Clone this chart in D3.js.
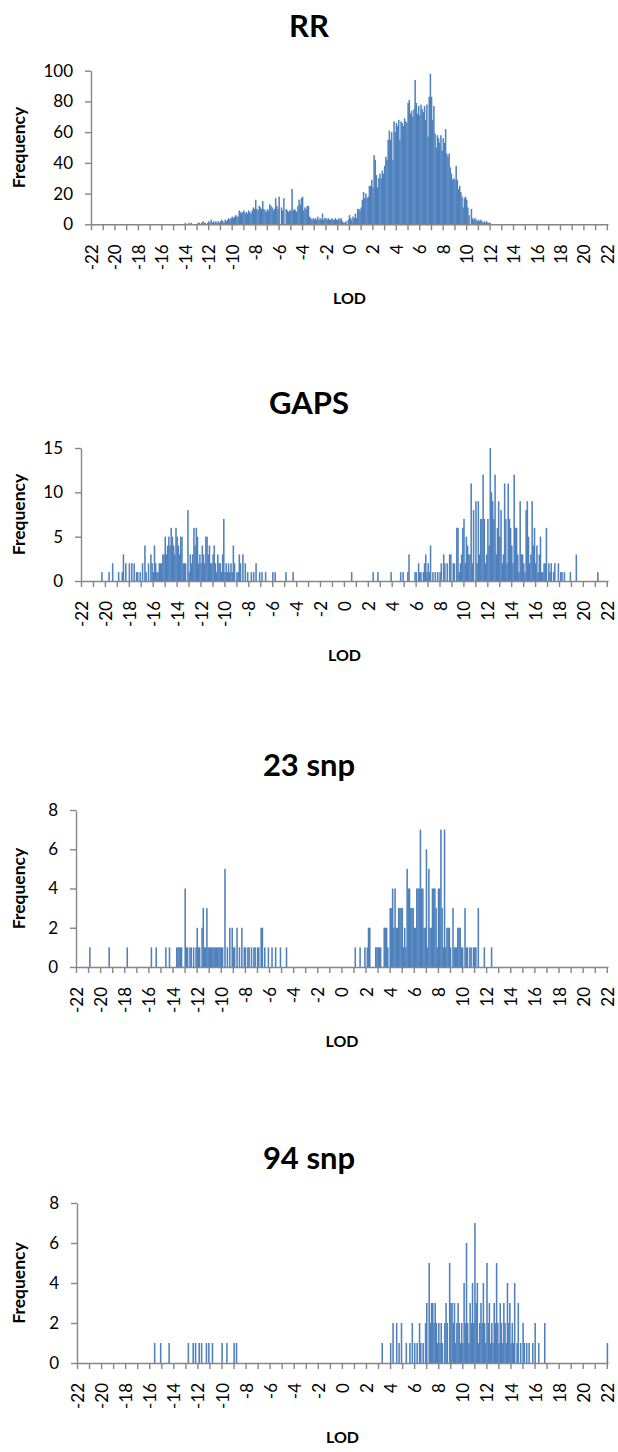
<!DOCTYPE html>
<html>
<head>
<meta charset="utf-8">
<script src="https://cdn.jsdelivr.net/npm/d3@7/dist/d3.min.js"></script>
<style>
  body { margin: 0; background: #fff; }
  svg { display: block; font-family: Lato, "Open Sans", sans-serif; }
  .domain, .tick line { stroke: #868686; stroke-width: 1.4; }
  .tick text { fill: #000; font-size: 17px; font-family: Lato, sans-serif; }
</style>
</head>
<body>
<div id="chart"></div>
<script>
// x tick labels (LOD), bins are 0.1 wide from -22 to 22
const lodLabels = d3.range(-22, 23, 2);
const lodMin = -22, lodMax = 22, binWidth = 0.1;

// RR: counts per bin starting at -14.0
const rrStart = -14.0;
const rrCounts = [
  1,0,0,1,0,1,0,0,0,0,
  0,1,1,0,1,2,1,1,0,1,
  2,1,3,1,2,1,2,1,2,1,
  2,3,2,1,3,2,3,4,3,4,
  5,4,5,6,5,5,9,8,7,8,
  9,7,8,7,9,8,7,9,11,10,
  16,10,9,12,11,10,15,10,9,8,
  10,9,13,12,11,9,10,17,12,10,
  18,0,11,9,17,0,10,9,8,9,
  9,23,9,10,9,8,12,16,13,17,
  18,9,11,10,12,12,5,4,3,4,
  3,4,3,5,3,4,3,7,3,4,
  4,3,4,3,3,4,3,3,4,3,
  3,4,3,4,2,1,1,2,0,3,
  6,4,3,5,4,7,4,10,10,9,
  11,16,21,17,20,17,18,25,25,29,
  24,45,42,32,24,30,33,30,35,33,
  38,44,42,55,61,55,60,42,67,60,
  66,64,68,55,67,66,64,69,67,66,
  79,81,72,74,70,75,94,79,72,77,
  71,78,75,73,77,68,78,57,83,98,
  83,68,77,59,50,58,56,53,58,48,
  56,53,62,46,44,46,37,33,29,30,
  29,38,29,23,25,21,18,11,17,18,
  16,11,6,0,10,4,3,4,3,2,
  3,2,3,2,1,2,1,2,1,1,
  1
];

// GAPS: [LOD, count] for non-empty bins
const gapsBins = [
  [-20.3,1],[-19.7,1],[-19.4,2],[-18.9,1],[-18.6,1],[-18.5,3],[-18.3,2],[-18.0,2],[-17.8,2],[-17.6,2],
  [-17.4,1],[-17.3,1],[-17.1,1],[-16.9,2],[-16.7,4],[-16.6,1],[-16.4,2],[-16.2,3],[-16.1,2],[-16.0,1],
  [-15.9,4],[-15.8,2],[-15.7,1],[-15.6,1],[-15.5,2],[-15.4,2],[-15.3,2],[-15.2,3],[-15.1,3],[-15.0,5],
  [-14.9,3],[-14.8,4],[-14.7,5],[-14.6,4],[-14.5,6],[-14.4,5],[-14.3,4],[-14.2,3],[-14.1,6],[-14.0,5],
  [-13.9,4],[-13.8,3],[-13.7,5],[-13.6,5],[-13.5,2],[-13.4,2],[-13.3,2],[-13.1,8],[-13.0,1],[-12.9,3],
  [-12.8,2],[-12.7,3],[-12.6,6],[-12.5,4],[-12.4,6],[-12.3,5],[-12.2,2],[-12.1,3],[-12.0,2],[-11.9,4],
  [-11.8,3],[-11.7,2],[-11.6,5],[-11.5,5],[-11.4,3],[-11.3,4],[-11.2,2],[-11.1,2],[-11.0,3],[-10.9,4],
  [-10.8,2],[-10.7,1],[-10.6,3],[-10.5,2],[-10.4,2],[-10.3,1],[-10.2,3],[-10.1,7],[-10.0,1],[-9.9,2],
  [-9.8,1],[-9.7,2],[-9.6,1],[-9.5,2],[-9.4,1],[-9.3,4],[-9.2,2],[-9.0,1],[-8.9,1],[-8.8,3],
  [-8.7,2],[-8.5,3],[-8.3,2],[-8.1,1],[-7.8,1],[-7.6,1],[-7.4,2],[-7.1,1],[-6.9,1],[-6.6,1],
  [-6.0,1],[-5.8,1],[-4.9,1],[-4.3,1],
  [0.6,1],[2.4,1],[2.8,1],[3.9,1],[4.7,1],[4.9,1],[5.3,1],[5.4,3],[5.9,1],[6.0,1],
  [6.2,2],[6.3,1],[6.4,1],[6.6,1],[6.7,2],[6.8,3],[6.9,1],[7.0,2],[7.1,1],[7.2,4],
  [7.4,1],[7.6,1],[7.8,1],[8.0,1],[8.1,2],[8.3,3],[8.4,2],[8.6,2],[8.8,3],[8.9,3],
  [9.1,2],[9.2,2],[9.4,6],[9.5,6],[9.6,1],[9.7,2],[9.8,3],[9.9,6],[10.0,7],[10.1,2],
  [10.2,5],[10.3,4],[10.4,3],[10.5,3],[10.6,11],[10.7,2],[10.8,8],[11.0,9],[11.1,2],[11.2,9],
  [11.3,3],[11.4,7],[11.5,7],[11.6,12],[11.7,7],[11.8,2],[11.9,3],[12.0,7],[12.1,4],[12.2,15],
  [12.3,10],[12.4,9],[12.5,7],[12.6,12],[12.7,3],[12.8,6],[12.9,9],[13.0,5],[13.1,8],[13.2,2],
  [13.3,3],[13.4,11],[13.5,7],[13.6,2],[13.7,11],[13.8,7],[13.9,6],[14.0,4],[14.1,2],[14.2,12],
  [14.3,6],[14.4,6],[14.5,3],[14.6,1],[14.7,9],[14.8,3],[14.9,3],[15.0,2],[15.1,1],[15.2,8],
  [15.3,9],[15.4,5],[15.5,2],[15.6,3],[15.7,9],[15.8,4],[15.9,6],[16.0,2],[16.1,4],[16.2,1],
  [16.3,3],[16.4,5],[16.5,1],[16.6,1],[16.7,2],[16.8,2],[16.9,6],[17.1,2],[17.2,1],[17.3,2],
  [17.5,1],[17.6,2],[17.9,2],[18.1,1],[18.2,1],[18.4,1],[18.9,1],[19.4,3],[21.2,1]
];

// 23 snp
const snp23Bins = [
  [-20.9,1],[-19.3,1],[-17.8,1],[-15.8,1],[-15.4,1],[-14.6,1],[-14.3,1],[-13.7,1],[-13.6,1],[-13.5,1],
  [-13.4,1],[-13.3,1],[-13.0,4],[-12.9,1],[-12.8,1],[-12.6,1],[-12.5,1],[-12.3,1],[-12.1,1],[-12.0,2],
  [-11.9,1],[-11.8,1],[-11.6,2],[-11.5,3],[-11.4,1],[-11.3,1],[-11.2,3],[-11.1,1],[-11.0,1],[-10.9,1],
  [-10.8,1],[-10.7,1],[-10.6,1],[-10.5,1],[-10.4,1],[-10.3,1],[-10.2,1],[-10.1,1],[-10.0,1],[-9.9,1],
  [-9.7,5],[-9.5,1],[-9.3,2],[-9.1,2],[-9.0,1],[-8.9,1],[-8.7,2],[-8.5,1],[-8.3,2],[-8.1,1],
  [-8.0,1],[-7.8,1],[-7.7,1],[-7.5,1],[-7.3,1],[-7.2,1],[-7.0,1],[-6.9,1],[-6.7,2],[-6.6,2],
  [-6.4,1],[-6.1,1],[-5.8,1],[-5.5,1],[-5.1,1],[-4.6,1],
  [1.1,1],[1.5,1],[1.9,1],[2.1,1],[2.2,2],[2.3,2],[2.8,1],[2.9,1],[3.0,1],[3.1,1],
  [3.2,1],[3.5,2],[3.6,2],[3.7,2],[3.8,1],[4.0,3],[4.1,3],[4.2,4],[4.3,2],[4.4,4],
  [4.5,2],[4.6,2],[4.7,3],[4.8,3],[4.9,3],[5.0,3],[5.1,1],[5.2,2],[5.3,1],[5.4,5],
  [5.5,4],[5.6,4],[5.7,3],[5.8,3],[5.9,3],[6.0,2],[6.1,2],[6.2,4],[6.3,4],[6.4,4],
  [6.5,7],[6.6,4],[6.7,4],[6.8,2],[6.9,2],[7.0,6],[7.1,1],[7.2,5],[7.3,2],[7.4,2],
  [7.5,4],[7.6,4],[7.7,4],[7.8,3],[7.9,1],[8.0,4],[8.1,4],[8.2,7],[8.3,3],[8.4,1],
  [8.5,7],[8.6,1],[8.7,2],[8.8,2],[8.9,2],[9.0,1],[9.2,3],[9.3,1],[9.4,1],[9.5,1],
  [9.6,2],[9.7,2],[9.8,2],[9.9,1],[10.0,1],[10.2,3],[10.3,1],[10.4,1],[10.6,1],[10.7,1],
  [10.9,1],[11.0,1],[11.1,1],[11.3,3],[11.8,1],[12.4,1]
];

// 94 snp
const snp94Bins = [
  [-15.6,1],[-15.1,1],[-14.4,1],[-12.8,1],[-12.4,1],[-12.2,1],[-11.9,1],[-11.7,1],[-11.3,1],[-11.1,1],
  [-10.8,1],[-10.0,1],[-9.6,1],[-9.0,1],[-8.8,1],
  [3.3,1],[4.0,1],[4.2,2],[4.5,2],[4.7,1],[4.9,2],[5.3,1],[5.6,1],[5.8,2],[6.0,1],
  [6.2,1],[6.4,2],[6.5,1],[6.7,1],[6.9,2],[7.0,3],[7.2,5],[7.3,2],[7.4,3],[7.5,3],
  [7.6,2],[7.7,3],[7.8,2],[7.9,1],[8.0,2],[8.1,1],[8.2,2],[8.3,1],[8.5,2],[8.6,3],
  [8.7,2],[8.9,5],[9.0,3],[9.1,3],[9.2,2],[9.3,3],[9.4,1],[9.5,2],[9.6,3],[9.7,2],
  [9.8,1],[9.9,2],[10.0,1],[10.1,4],[10.2,2],[10.3,6],[10.4,2],[10.5,1],[10.6,3],[10.7,2],
  [10.8,4],[10.9,2],[11.0,7],[11.1,3],[11.2,4],[11.3,1],[11.4,2],[11.5,3],[11.6,2],[11.7,4],
  [11.8,2],[11.9,1],[12.0,5],[12.1,2],[12.2,3],[12.3,1],[12.4,2],[12.5,1],[12.6,3],[12.7,2],
  [12.8,5],[12.9,2],[13.0,1],[13.1,3],[13.2,2],[13.3,1],[13.4,3],[13.5,2],[13.6,1],[13.7,4],
  [13.8,2],[13.9,3],[14.0,1],[14.1,2],[14.2,1],[14.3,4],[14.5,1],[14.6,3],[14.8,1],[15.0,2],
  [15.1,1],[15.3,1],[15.5,1],[15.8,1],[16.0,2],[16.3,1],[16.8,2],[22.0,1]
];

const rrBins = rrCounts.map((c, i) => [+(rrStart + i * binWidth).toFixed(1), c]);

const width = 618, height = 1452, plotRight = 608, barOverlap = 0.35;

const panels = [
  {title: 'RR', bins: rrBins, yMax: 100, yStep: 20, left: 91, top: 70.7, bottom: 224.3},
  {title: 'GAPS', bins: gapsBins, yMax: 15, yStep: 5, left: 81, top: 448, bottom: 581},
  {title: '23 snp', bins: snp23Bins, yMax: 8, yStep: 2, left: 76, top: 810, bottom: 967},
  {title: '94 snp', bins: snp94Bins, yMax: 8, yStep: 2, left: 77, top: 1203, bottom: 1363}
];

let svg = d3.select('#chart').append('svg')
    .attr('width', width)
    .attr('height', height);

svg.append('rect')
    .attr('width', width)
    .attr('height', height)
    .attr('fill', '#fff');

function drawPanel(p) {
    let g = svg.append('g');

    let xScale = d3.scaleLinear()
        .domain([lodMin - binWidth / 2, lodMax + binWidth / 2])
        .range([p.left, plotRight]);

    let yScale = d3.scaleLinear()
        .domain([0, p.yMax])
        .range([p.bottom, p.top]);

    // bars, slightly widened so neighbouring bins don't show seams
    g.append('g').selectAll('rect')
        .data(p.bins.filter(d => d[1] > 0))
        .join('rect')
        .attr('x', d => xScale(d[0] - binWidth / 2) - barOverlap / 2)
        .attr('width', d => xScale(d[0] + binWidth / 2) - xScale(d[0] - binWidth / 2) + barOverlap)
        .attr('y', d => yScale(d[1]))
        .attr('height', d => yScale(0) - yScale(d[1]))
        .attr('fill', '#4F81BD');

    // y axis
    g.append('g')
        .attr('transform', `translate(${p.left}, 0)`)
        .call(d3.axisLeft(yScale)
            .tickValues(d3.range(0, p.yMax + 0.001, p.yStep))
            .tickSize(6)
            .tickSizeOuter(0)
            .tickPadding(12)
            .tickFormat(d => String(d)));

    // x axis: marks every 10 bins
    g.append('g')
        .attr('transform', `translate(0, ${p.bottom})`)
        .call(d3.axisBottom(xScale)
            .tickValues(d3.range(0, 45).map(k => lodMin - binWidth / 2 + k))
            .tickSize(6)
            .tickSizeOuter(0)
            .tickFormat(''));

    // x labels, rotated
    let xl = g.append('g')
        .attr('transform', `translate(0, ${p.bottom})`)
        .call(d3.axisBottom(xScale)
            .tickValues(lodLabels)
            .tickSize(0)
            .tickFormat(d => String(d)));
    xl.select('.domain').remove();
    xl.selectAll('text')
        .attr('transform', 'rotate(-90)')
        .attr('text-anchor', 'end')
        .attr('x', -20)
        .attr('y', 0)
        .attr('dy', '0.35em');

    // titles
    g.append('text')
        .attr('x', width / 2)
        .attr('y', p.top - 45)
        .attr('dy', '0.35em')
        .attr('text-anchor', 'middle')
        .attr('font-size', 31)
        .attr('font-weight', 'bold')
        .text(p.title);

    g.append('text')
        .attr('transform', `translate(19, ${(p.top + p.bottom) / 2}) rotate(-90)`)
        .attr('dy', '0.35em')
        .attr('text-anchor', 'middle')
        .attr('font-size', 17.5)
        .attr('font-weight', 'bold')
        .text('Frequency');

    g.append('text')
        .attr('x', (p.left + plotRight) / 2)
        .attr('y', p.bottom + 74)
        .attr('dy', '0.35em')
        .attr('text-anchor', 'middle')
        .attr('font-size', 16)
        .attr('font-weight', 'bold')
        .text('LOD');
}

panels.forEach(drawPanel);
</script>
</body>
</html>
